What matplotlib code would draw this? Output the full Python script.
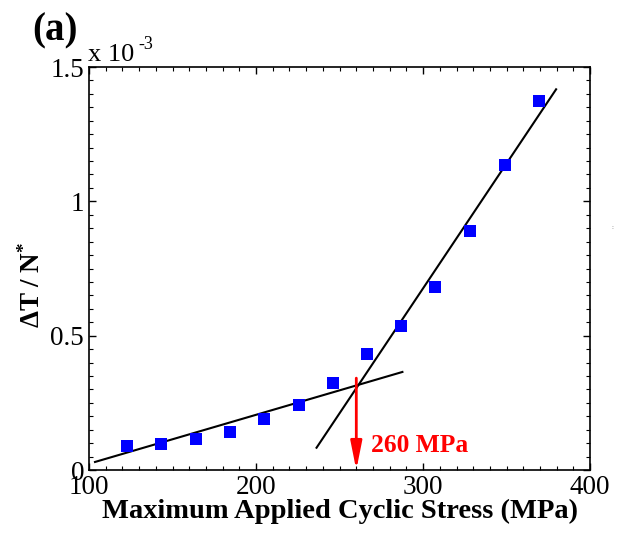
import matplotlib
matplotlib.use('Agg')
import matplotlib.pyplot as plt
from matplotlib.ticker import MultipleLocator, FuncFormatter

plt.rcParams['font.family'] = ['Liberation Serif', 'DejaVu Serif']
plt.rcParams['mathtext.fontset'] = 'custom'
plt.rcParams['mathtext.rm'] = 'Liberation Serif'
plt.rcParams['mathtext.bf'] = 'Liberation Serif:bold'
plt.rcParams['mathtext.it'] = 'Liberation Serif:italic'

# data
stress = [122.6, 143.2, 164.0, 184.6, 205.0, 225.8, 246.2, 266.6, 286.6, 307.0, 328.0, 348.8, 369.4]
dT_N = [0.089e-3, 0.097e-3, 0.117e-3, 0.143e-3, 0.191e-3, 0.241e-3, 0.323e-3,
        0.432e-3, 0.536e-3, 0.681e-3, 0.890e-3, 1.134e-3, 1.375e-3]

# two fitted lines
fit_low_x = [103.6, 287.6]
fit_low_y = [0.030e-3, 0.365e-3]
fit_high_x = [236.2, 379.6]
fit_high_y = [0.083e-3, 1.417e-3]

# fatigue limit estimate
limite = 260
limite_y = 0.342e-3

fig = plt.figure(figsize=(6.18, 5.43), dpi=100)
ax = fig.add_axes([0.144, 0.1344, 0.811, 0.7422])

ax.plot(fit_low_x, fit_low_y, color='black', lw=1.5)
ax.plot(fit_high_x, fit_high_y, color='black', lw=1.5)
ax.plot(stress, dT_N, 's', color='#0000ff', markersize=8.5, markeredgewidth=0)

ax.annotate('', xy=(limite, 0), xytext=(limite, limite_y),
            arrowprops=dict(arrowstyle='-|>,head_length=17,head_width=3.4',
                            mutation_scale=1, color='red', lw=2,
                            shrinkA=0, shrinkB=0), annotation_clip=False)
ax.text(269, 0.068e-3, '260 MPa', color='red', fontsize=18.4, fontweight='bold')

ax.set_xlim(100, 400)
ax.set_ylim(0, 1.5e-3)
ax.xaxis.set_major_locator(MultipleLocator(100))
ax.xaxis.set_minor_locator(MultipleLocator(10))
ax.yaxis.set_major_locator(MultipleLocator(0.5e-3))
ax.yaxis.set_minor_locator(MultipleLocator(0.05e-3))
ax.yaxis.set_major_formatter(FuncFormatter(lambda v, p: ('%g' % (v * 1e3))))
ax.tick_params(which='both', direction='in', top=True, right=True, labelsize=19.5)
ax.tick_params(which='major', length=5, width=1)
ax.tick_params(which='minor', length=3, width=0.8)
for s in ax.spines.values():
    s.set_linewidth(1.2)

ax.set_xlabel('Maximum Applied Cyclic Stress (MPa)', fontsize=20.5, fontweight='bold', labelpad=-1)
ax.set_ylabel(r'$\mathbf{\Delta T\ /\ N^{*}}$', fontsize=19.5)
ax.yaxis.set_label_coords(-0.086, 0.46)

fig.text(0.143, 0.888, 'x 10', fontsize=19)
fig.text(0.224, 0.910, '-3', fontsize=13)
fig.text(0.052, 0.925, '(a)', fontsize=28, fontweight='bold')
fig.text(0.990, 0.578, ':', fontsize=5, color='#555555')

fig.savefig('out.png', dpi=100)
